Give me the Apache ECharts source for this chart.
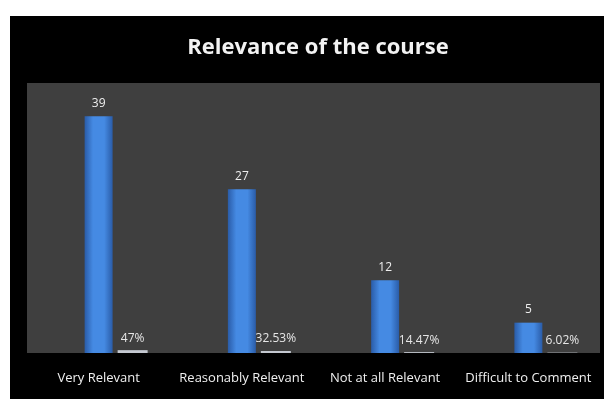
<!DOCTYPE html>
<html>
<head>
<meta charset="utf-8">
<script src="https://cdn.jsdelivr.net/npm/echarts@6/dist/echarts.min.js"></script>
<style>
  html, body { margin: 0; padding: 0; background: #fff; }
  #chart { width: 604px; height: 399px; }
</style>
</head>
<body>
<div id="chart"></div>
<script>
// Survey responses on how relevant the course was
const categories = ['Very Relevant', 'Reasonably Relevant', 'Not at all Relevant', 'Difficult to Comment'];
const counts = [39, 27, 12, 5];
const percents = [47, 32.53, 14.47, 6.02];

const chart = echarts.init(document.getElementById('chart'));

const blueFill = new echarts.graphic.LinearGradient(0, 0, 1, 0, [
  { offset: 0, color: '#2a5ca8' },
  { offset: 0.3, color: '#458ae3' },
  { offset: 0.7, color: '#458ae3' },
  { offset: 1, color: '#2a5ca8' }
]);

chart.setOption({
  backgroundColor: '#ffffff',
  animation: false,
  graphic: [{
    type: 'rect',
    z: -10,
    shape: { x: 10, y: 16, width: 594, height: 383 },
    style: { fill: '#000000' }
  }],
  title: {
    text: 'Relevance of the course',
    left: 313,
    top: 32,
    textAlign: 'center',
    textStyle: { color: '#f2f2f2', fontFamily: 'Open Sans', fontWeight: 'bold', fontSize: 22 }
  },
  grid: {
    left: 27, right: 4, top: 83, bottom: 46,
    show: true, backgroundColor: '#3f3f3f', borderWidth: 0
  },
  xAxis: [{
    type: 'category',
    data: categories,
    axisLine: { show: false },
    axisTick: { show: false },
    axisLabel: { color: '#f0f0f0', fontFamily: 'Open Sans', fontSize: 13, margin: 19, interval: 0 }
  }, {
    type: 'category',
    data: categories,
    show: false
  }],
  yAxis: {
    type: 'value',
    min: 0,
    max: 44.5,
    show: false,
    splitLine: { show: false }
  },
  series: [{
    name: 'Responses',
    type: 'bar',
    xAxisIndex: 0,
    data: counts,
    barWidth: 28,
    itemStyle: { color: blueFill },
    label: {
      show: true, position: 'top', distance: 7,
      color: '#eeeeee', fontFamily: 'Open Sans', fontSize: 12
    }
  }, {
    // spacer that pushes the share bars to the right of each count bar
    name: 'spacer',
    type: 'bar',
    xAxisIndex: 1,
    data: categories.map(() => '-'),
    barWidth: 68,
    barGap: 0
  }, {
    name: 'Share',
    type: 'bar',
    xAxisIndex: 1,
    data: percents.map(p => p / 100),
    barWidth: 30,
    barGap: 0,
    itemStyle: { color: '#c4c8d0' },
    label: {
      show: true, position: 'top', distance: 6,
      color: '#e6e6e6', fontFamily: 'Open Sans', fontSize: 12,
      formatter: p => percents[p.dataIndex] + '%'
    }
  }]
});
</script>
</body>
</html>
